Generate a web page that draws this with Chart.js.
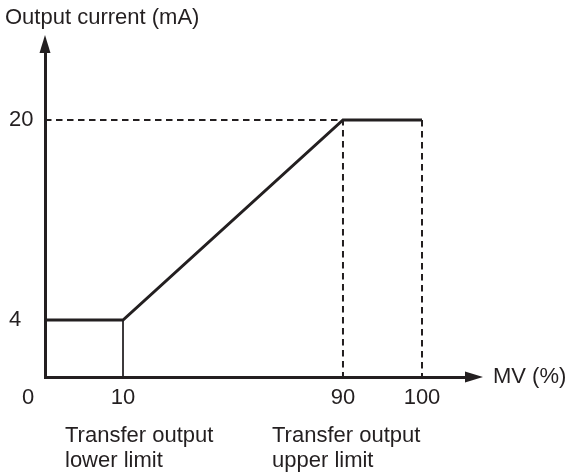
<!DOCTYPE html>
<html>
<head>
<meta charset="utf-8">
<script src="https://cdn.jsdelivr.net/npm/chart.js@4.4.1/dist/chart.umd.min.js"></script>
<style>
  html, body { margin: 0; padding: 0; background: #fff; }
  #wrap { width: 570px; height: 476px; }
</style>
</head>
<body>
<div id="wrap"><canvas id="transferChart"></canvas></div>
<script>
// Transfer output: MV (%) -> output current (mA)
const mvPoints = [0, 10, 90, 100];
const currentPoints = [4, 4, 20, 20];
const xTickValues = [10, 90, 100];
const yTickValues = [4, 20];
const lowerLimitLabel = ['Transfer output', 'lower limit'];
const upperLimitLabel = ['Transfer output', 'upper limit'];

const ink = '#231f20';
const fontFamily = "'Liberation Sans', Arial, sans-serif";

// the axes in the drawing are not to scale, so map them piece by piece
class PiecewiseScale extends Chart.LinearScale {
  static id = 'piecewise';
  static defaults = Chart.LinearScale.defaults;

  getPixelForValue(value) {
    if (value === null || value === undefined) return NaN;
    const stops = this.options.stops;
    let i = 1;
    while (i < stops.length - 1 && value > stops[i][0]) i++;
    const [v0, f0] = stops[i - 1];
    const [v1, f1] = stops[i];
    return this.getPixelForDecimal(f0 + (value - v0) / (v1 - v0) * (f1 - f0));
  }

  getValueForPixel(pixel) {
    const dec = this.getDecimalForPixel(pixel);
    const stops = this.options.stops;
    let i = 1;
    while (i < stops.length - 1 && dec > stops[i][1]) i++;
    const [v0, f0] = stops[i - 1];
    const [v1, f1] = stops[i];
    return v0 + (dec - f0) / (f1 - f0) * (v1 - v0);
  }
}
Chart.register(PiecewiseScale);

const mainLine = mvPoints.map((v, i) => ({ x: v, y: currentPoints[i] }));
const maxCurrent = currentPoints[2];
const upperGuide = [{ x: mvPoints[0], y: maxCurrent }, { x: mvPoints[2], y: maxCurrent }, { x: mvPoints[2], y: 0 }];
const endGuide = [{ x: mvPoints[3], y: maxCurrent }, { x: mvPoints[3], y: 0 }];
const lowerGuide = [{ x: mvPoints[1], y: currentPoints[1] }, { x: mvPoints[1], y: 0 }];

// arrows, axis names and notes under the axis
const decorations = {
  id: 'decorations',
  afterDraw(chart) {
    const { ctx, chartArea: a } = chart;
    ctx.save();
    ctx.fillStyle = ink;
    ctx.beginPath();
    ctx.moveTo(a.left, a.top - 17);
    ctx.lineTo(a.left - 5.5, a.top + 1);
    ctx.lineTo(a.left + 5.5, a.top + 1);
    ctx.closePath();
    ctx.fill();
    ctx.beginPath();
    ctx.moveTo(a.right + 17, a.bottom);
    ctx.lineTo(a.right - 1, a.bottom - 5.5);
    ctx.lineTo(a.right - 1, a.bottom + 5.5);
    ctx.closePath();
    ctx.fill();

    ctx.font = '22px ' + fontFamily;
    ctx.textBaseline = 'middle';
    ctx.textAlign = 'left';
    ctx.fillText('Output current (mA)', 5, 18);
    ctx.fillText('MV (%)', a.right + 27, a.bottom);
    ctx.textAlign = 'center';
    ctx.fillText('0', 28, 398);

    ctx.textAlign = 'left';
    ctx.textBaseline = 'alphabetic';
    lowerLimitLabel.forEach((t, i) => ctx.fillText(t, 65, 442 + i * 25));
    upperLimitLabel.forEach((t, i) => ctx.fillText(t, 272, 442 + i * 25));
    ctx.restore();
  }
};

const guideStyle = {
  borderColor: ink,
  borderWidth: 2,
  borderDash: [6.5, 4.5],
  pointRadius: 0,
  fill: false,
  clip: false
};

new Chart(document.getElementById('transferChart'), {
  type: 'line',
  data: {
    datasets: [
      { data: lowerGuide, borderColor: ink, borderWidth: 1, pointRadius: 0, fill: false, clip: false },
      { data: upperGuide, ...guideStyle },
      { data: endGuide, ...guideStyle },
      { data: mainLine, borderColor: ink, borderWidth: 3, pointRadius: 0, fill: false, tension: 0, clip: false }
    ]
  },
  options: {
    responsive: true,
    maintainAspectRatio: false,
    animation: false,
    events: [],
    layout: { padding: { left: 9, right: 104, top: 52, bottom: 0 } },
    plugins: { legend: { display: false }, tooltip: { enabled: false } },
    scales: {
      x: {
        type: 'piecewise',
        min: 0,
        max: 105.6,
        stops: [[0, 0], [10, 0.1853], [90, 0.7078], [100, 0.8955], [105.6, 1]],
        afterBuildTicks: s => { s.ticks = xTickValues.map(v => ({ value: v })); },
        afterFit: s => { s.height = 99; },
        grid: { display: false, drawTicks: false },
        border: { color: ink, width: 3 },
        ticks: { color: ink, font: { family: fontFamily, size: 22 }, padding: 8, maxRotation: 0, autoSkip: false }
      },
      y: {
        type: 'piecewise',
        min: 0,
        max: 25.3,
        stops: [[0, 0], [4, 0.1754], [20, 0.7908], [25.3, 1]],
        afterBuildTicks: s => { s.ticks = yTickValues.map(v => ({ value: v })); },
        afterFit: s => { s.width = 36; },
        grid: { display: false, drawTicks: false },
        border: { color: ink, width: 3 },
        ticks: { color: ink, font: { family: fontFamily, size: 22 }, crossAlign: 'far', autoSkip: false }
      }
    }
  },
  plugins: [decorations]
});
</script>
</body>
</html>
